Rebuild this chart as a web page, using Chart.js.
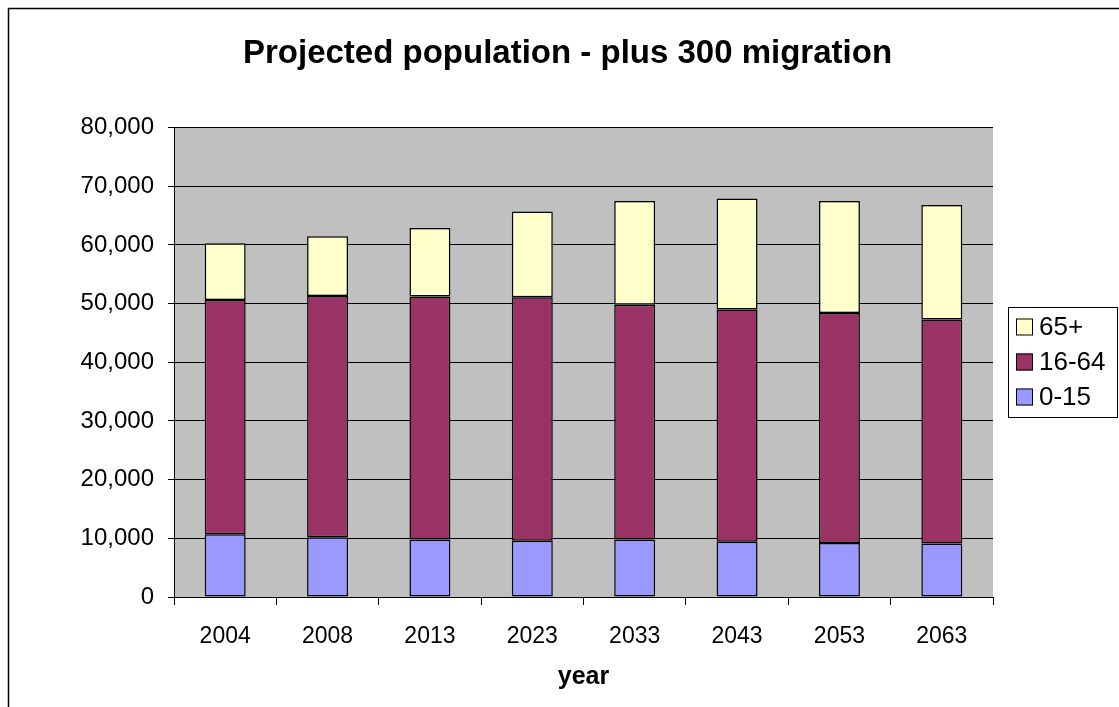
<!DOCTYPE html>
<html>
<head>
<meta charset="utf-8">
<script src="https://cdn.jsdelivr.net/npm/chart.js@4"></script>
<style>
  html, body { margin: 0; padding: 0; background: #fff; }
  #wrap { width: 1119px; height: 707px; }
</style>
</head>
<body>
<div id="wrap"><canvas id="popChart" width="1119" height="707"></canvas></div>
<script>
// projection years and age-group populations
const years = ['2004', '2008', '2013', '2023', '2033', '2043', '2053', '2063'];
const age0to15 = [10700, 10200, 9800, 9600, 9800, 9400, 9200, 9100];
const age16to64 = [39900, 41100, 41400, 41500, 40000, 39600, 39200, 38200];
const age65plus = [9700, 10200, 11700, 14600, 17700, 18900, 19100, 19500];
const yTicks = [0, 10000, 20000, 30000, 40000, 50000, 60000, 70000, 80000];

const FONT = 'Liberation Sans, Arial, sans-serif';

// white page with the outer frame and grey plot background
const frame = {
  id: 'frame',
  beforeDraw(chart) {
    const ctx = chart.ctx, a = chart.chartArea;
    ctx.save();
    ctx.fillStyle = '#fff';
    ctx.fillRect(0, 0, chart.width, chart.height);
    ctx.strokeStyle = '#000';
    ctx.lineWidth = 1.5;
    ctx.strokeRect(8.5, 8.5, chart.width + 10, chart.height + 10);
    ctx.fillStyle = '#c0c0c0';
    ctx.fillRect(a.left, a.top, a.right - a.left, a.bottom - a.top);
    ctx.restore();
  }
};

// boxed legend to the right of the plot, top series first
const sideLegend = {
  id: 'sideLegend',
  afterDraw(chart) {
    const ctx = chart.ctx, a = chart.chartArea;
    const mid = Math.round((a.top + a.bottom) / 2);
    const left = Math.round(a.right) + 15;
    const top = mid - 55;
    ctx.save();
    ctx.strokeStyle = '#000';
    ctx.lineWidth = 1;
    ctx.strokeRect(left + 0.5, top + 0.5, chart.width - left - 2, 110);
    ctx.font = '26px ' + FONT;
    ctx.textBaseline = 'middle';
    ctx.textAlign = 'left';
    const sets = chart.data.datasets.slice().reverse();
    sets.forEach((ds, i) => {
      const cy = mid + (i - 1) * 35;
      ctx.fillStyle = ds.backgroundColor;
      ctx.fillRect(left + 8, cy - 8.5, 17, 17);
      ctx.strokeStyle = '#000';
      ctx.strokeRect(left + 8.5, cy - 8, 16, 16);
      ctx.fillStyle = '#000';
      ctx.fillText(ds.label, left + 31, cy + 1);
    });
    ctx.restore();
  }
};

new Chart(document.getElementById('popChart'), {
  type: 'bar',
  data: {
    labels: years,
    datasets: [
      { label: '0-15', data: age0to15, backgroundColor: '#9999ff' },
      { label: '16-64', data: age16to64, backgroundColor: '#993366' },
      { label: '65+', data: age65plus, backgroundColor: '#ffffcc' }
    ]
  },
  options: {
    responsive: false,
    animation: false,
    devicePixelRatio: 1,
    layout: { padding: { top: 22, left: 16, right: 0, bottom: 0 } },
    datasets: {
      bar: {
        borderColor: '#000',
        borderWidth: 1.5,
        borderSkipped: false,
        categoryPercentage: 1,
        barPercentage: 0.4
      }
    },
    plugins: {
      title: {
        display: true,
        text: 'Projected population - plus 300 migration',
        color: '#000',
        font: { family: FONT, size: 33, weight: 'bold' },
        padding: { top: 12, bottom: 54 }
      },
      legend: { display: false },
      tooltip: { enabled: false }
    },
    scales: {
      x: {
        stacked: true,
        grid: {
          offset: true,
          drawOnChartArea: false,
          color: '#000',
          tickLength: 8
        },
        border: { color: '#000', width: 1 },
        ticks: {
          color: '#000',
          font: { family: FONT, size: 23 },
          padding: 18
        },
        title: {
          display: true,
          text: 'year',
          color: '#000',
          font: { family: FONT, size: 25, weight: 'bold' },
          padding: { top: 0, bottom: 15 }
        },
        afterFit(scale) { scale.height = 110; }
      },
      y: {
        stacked: true,
        min: 0,
        max: 80000,
        afterBuildTicks(scale) { scale.ticks = yTicks.map(v => ({ value: v })); },
        grid: { color: '#000', tickLength: 6 },
        border: { color: '#000', width: 1 },
        ticks: {
          color: '#000',
          font: { family: FONT, size: 24 },
          padding: 14,
          callback: v => v.toLocaleString('en-US')
        },
        afterFit(scale) { scale.width = 158; }
      },
      // empty right-hand strip that leaves room for the legend
      side: {
        position: 'right',
        min: 0,
        max: 1,
        grid: { display: false },
        border: { display: false },
        ticks: { display: false },
        afterFit(scale) { scale.width = 126; }
      }
    }
  },
  plugins: [frame, sideLegend]
});
</script>
</body>
</html>
